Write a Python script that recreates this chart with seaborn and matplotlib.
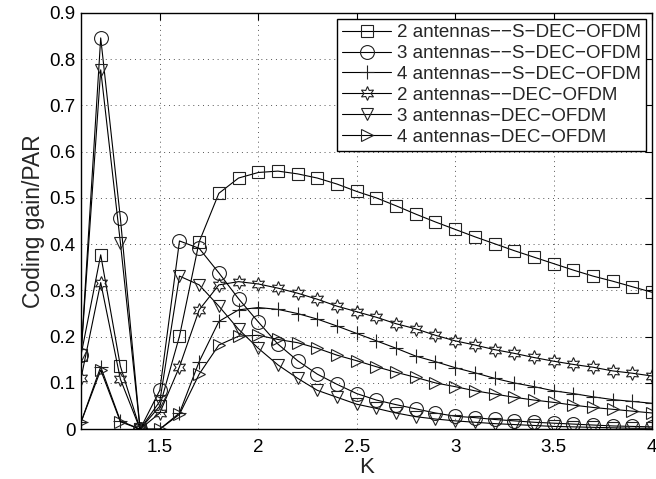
import numpy as np
import pandas as pd
import matplotlib
matplotlib.use("Agg")
import matplotlib.pyplot as plt
import seaborn as sns

K = [1.1, 1.2, 1.3, 1.4, 1.5, 1.6, 1.7, 1.8, 1.9, 2.0,
     2.1, 2.2, 2.3, 2.4, 2.5, 2.6, 2.7, 2.8, 2.9, 3.0,
     3.1, 3.2, 3.3, 3.4, 3.5, 3.6, 3.7, 3.8, 3.9, 4.0]

labels = ["2 antennas\u2212\u2212S\u2212DEC\u2212OFDM", "3 antennas\u2212\u2212S\u2212DEC\u2212OFDM",
          "4 antennas\u2212\u2212S\u2212DEC\u2212OFDM", "2 antennas\u2212\u2212DEC\u2212OFDM",
          "3 antennas\u2212DEC\u2212OFDM", "4 antennas\u2212DEC\u2212OFDM"]

s_dec_2 = [0.160, 0.377, 0.136, 0.0, 0.050, 0.201, 0.405, 0.510, 0.543, 0.555,
           0.558, 0.552, 0.543, 0.530, 0.514, 0.500, 0.483, 0.465, 0.448, 0.432,
           0.416, 0.401, 0.386, 0.372, 0.358, 0.344, 0.331, 0.320, 0.308, 0.296]
s_dec_3 = [0.160, 0.846, 0.456, 0.0, 0.084, 0.407, 0.391, 0.338, 0.282, 0.232,
           0.184, 0.148, 0.119, 0.097, 0.077, 0.063, 0.053, 0.044, 0.035, 0.028,
           0.025, 0.021, 0.018, 0.015, 0.013, 0.011, 0.009, 0.007, 0.006, 0.005]
s_dec_4 = [0.015, 0.135, 0.018, 0.0, 0.000, 0.035, 0.146, 0.233, 0.258, 0.263,
           0.259, 0.250, 0.238, 0.223, 0.207, 0.191, 0.175, 0.158, 0.146, 0.133,
           0.122, 0.110, 0.100, 0.092, 0.083, 0.077, 0.070, 0.064, 0.060, 0.056]
dec_2 = [0.110, 0.317, 0.108, 0.0, 0.035, 0.135, 0.258, 0.312, 0.319, 0.314,
         0.305, 0.294, 0.281, 0.266, 0.254, 0.242, 0.228, 0.217, 0.203, 0.191,
         0.182, 0.172, 0.164, 0.155, 0.147, 0.140, 0.134, 0.126, 0.121, 0.115]
dec_3 = [0.160, 0.777, 0.403, 0.0, 0.060, 0.331, 0.312, 0.266, 0.216, 0.175,
         0.139, 0.110, 0.084, 0.069, 0.054, 0.045, 0.035, 0.027, 0.022, 0.018,
         0.015, 0.012, 0.010, 0.008, 0.006, 0.005, 0.004, 0.003, 0.002, 0.002]
dec_4 = [0.015, 0.128, 0.016, 0.0, 0.000, 0.032, 0.119, 0.182, 0.201, 0.203,
         0.194, 0.187, 0.175, 0.160, 0.148, 0.135, 0.123, 0.112, 0.100, 0.092,
         0.083, 0.076, 0.069, 0.063, 0.058, 0.052, 0.047, 0.043, 0.039, 0.035]

series = [s_dec_2, s_dec_3, s_dec_4, dec_2, dec_3, dec_4]
marker_list = ["s", "o", "+", "*", "v", ">"]

sns.set_theme(style="white")
plt.rcParams['font.family'] = ['Liberation Sans', 'DejaVu Sans']

fig = plt.figure(figsize=(6.56, 4.79), dpi=100)
ax = fig.add_axes([0.1235, 0.104, 0.8705, 0.869])

msizes = {"s": 8, "o": 10, "+": 10, "*": 10, "v": 9, ">": 9}
for lab, vals, mk in zip(labels, series, marker_list):
    df = pd.DataFrame({"K": K, "v": vals})
    mkr = (6, 1, 0) if mk == "*" else mk
    sns.lineplot(data=df, x="K", y="v", ax=ax, color="black", lw=0.8,
                 marker=mkr, markersize=msizes[mk], markerfacecolor="none",
                 markeredgecolor="#222222", markeredgewidth=0.8, label=lab)

ax.set_xlim(1.1, 4.0)
ax.set_ylim(0, 0.9)
ax.set_xticks([1.5, 2, 2.5, 3, 3.5, 4])
ax.set_xticklabels(["1.5", "2", "2.5", "3", "3.5", "4"])
ax.set_yticks([0, 0.1, 0.2, 0.3, 0.4, 0.5, 0.6, 0.7, 0.8, 0.9])
ax.set_yticklabels(["0", "0.1", "0.2", "0.3", "0.4", "0.5", "0.6", "0.7", "0.8", "0.9"])
ax.grid(True, linestyle=(0, (1, 4)), color="#555555", linewidth=0.7)
ax.tick_params(direction="in", length=5, width=0.8, top=True, right=True,
               labelsize=13.5, colors="black")
ax.tick_params(axis="x", pad=7)
ax.tick_params(axis="y", pad=4)
for sp in ax.spines.values():
    sp.set_color("black")
    sp.set_linewidth(1.0)
ax.set_xlabel("K", fontsize=16, labelpad=1)
ax.set_ylabel("Coding gain/PAR", fontsize=16.5, labelpad=3)

leg = ax.legend(loc="upper right", fontsize=13.5, frameon=True, fancybox=False,
                edgecolor="black", framealpha=1, borderpad=0.3, labelspacing=0.2,
                handlelength=2.6, handletextpad=0.3, borderaxespad=0.3)
leg.get_frame().set_linewidth(1.0)

fig.savefig("out.png", dpi=100)
